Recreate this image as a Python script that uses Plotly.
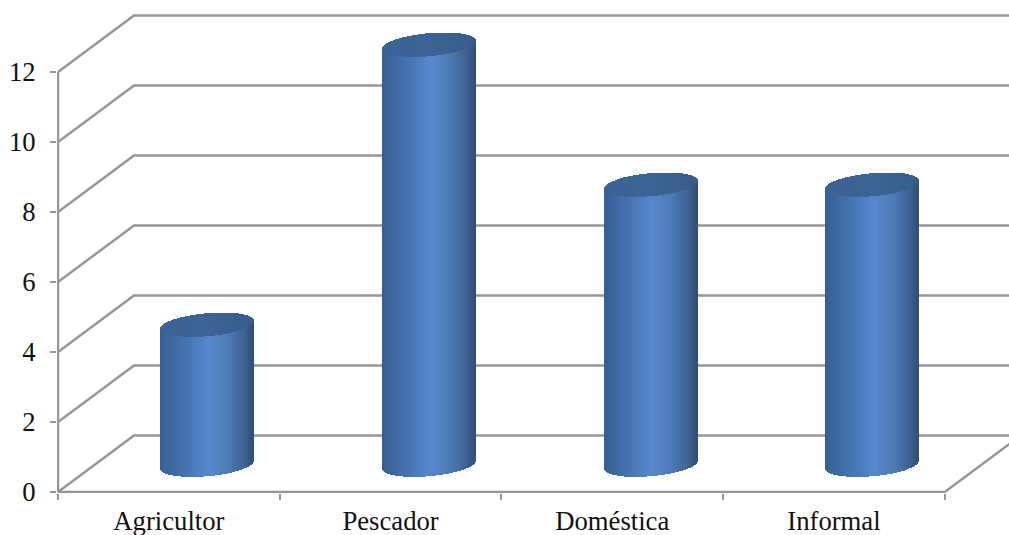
import numpy as np
import plotly.graph_objects as go

# Chart data
categories = ["Agricultor", "Pescador", "Doméstica", "Informal"]
values = [4, 12, 8, 8]
y_ticks = [0, 2, 4, 6, 8, 10, 12]

# Pseudo-3D geometry, in axis units
PX_PER_CAT = 221.7
PX_PER_UNIT = 35.0
DEPTH_X = 76 / PX_PER_CAT
DEPTH_Y = 56.5 / PX_PER_UNIT
PAD_X = 1 / PX_PER_CAT              # keeps the axis strokes from being clipped
PAD_Y = 1 / PX_PER_UNIT
X_LEFT = -0.5
X_MIN = X_LEFT - PAD_X
X_MAX = X_LEFT + 951 / PX_PER_CAT
Y_MIN = -PAD_Y
Y_MAX = 492 / PX_PER_UNIT

CYL_SHIFT = 38.5 / PX_PER_CAT       # cylinder centre sits mid-way into the floor
CYL_HALF = 46.5 / PX_PER_CAT        # cylinder radius along x
CYL_BASE = 0.78                     # height of the base centre above the front edge
CAP_B = 11.5 / PX_PER_UNIT          # half height of the elliptic caps
CAP_TILT = 4.0 / PX_PER_UNIT        # caps rise towards the right
SLICES = 94

GRID = "#969696"
LINE_W = 2.4
BODY_STOPS = [(-1.0, (54, 94, 146)), (-0.55, (66, 112, 172)), (0.05, (86, 136, 205)),
              (0.45, (78, 123, 184)), (0.8, (62, 99, 148)), (1.0, (48, 78, 118))]
CAP_STOPS = [(-1.0, (58, 100, 150)), (0.0, (60, 100, 148)), (1.0, (56, 92, 138))]


def shade(u, stops):
    pos = [s[0] for s in stops]
    rgb = [np.interp(u, pos, [s[1][c] for s in stops]) for c in range(3)]
    return "rgb(%d,%d,%d)" % tuple(int(round(c)) for c in rgb)


fig = go.Figure()

# Back wall and side wall gridlines
for v in y_ticks:
    fig.add_trace(go.Scatter(
        x=[X_LEFT, X_LEFT + DEPTH_X, X_MAX], y=[v, v + DEPTH_Y, v + DEPTH_Y],
        mode="lines", line=dict(color=GRID, width=LINE_W), hoverinfo="skip", showlegend=False,
    ))

# Front edge of the floor, right floor edge and the value axis line
right_end = X_LEFT + len(categories)
fig.add_trace(go.Scatter(x=[X_LEFT, right_end, right_end + DEPTH_X], y=[0, 0, DEPTH_Y],
                         mode="lines", line=dict(color=GRID, width=LINE_W),
                         hoverinfo="skip", showlegend=False))
fig.add_trace(go.Scatter(x=[X_LEFT, X_LEFT], y=[y_ticks[0], y_ticks[-1]],
                         mode="lines", line=dict(color=GRID, width=LINE_W),
                         hoverinfo="skip", showlegend=False))

# Each cylinder is a stack of thin bars on the category axis
us = (np.arange(SLICES) + 0.5) / SLICES * 2 - 1
slice_w = 2 * CYL_HALF / SLICES
for cat, val in zip(categories, values):
    arc = np.sqrt(1 - us ** 2)
    tilt = CAP_TILT * us
    bottom = CYL_BASE + tilt - CAP_B * arc
    top = CYL_BASE + val + tilt
    offsets = CYL_SHIFT + us * CYL_HALF - slice_w * 0.6
    widths = np.full(SLICES, slice_w * 1.2)

    fig.add_trace(go.Bar(
        x=[cat] * SLICES, y=top - bottom, base=bottom, offset=offsets, width=widths,
        marker=dict(color=[shade(u, BODY_STOPS) for u in us], line=dict(width=0)),
        xaxis="x2", yaxis="y", hoverinfo="skip", showlegend=False,
    ))
    cap_low = CYL_BASE + val + tilt - CAP_B * arc
    cap_high = CYL_BASE + val + tilt + CAP_B * arc
    fig.add_trace(go.Bar(
        x=[cat] * SLICES, y=cap_high - cap_low, base=cap_low, offset=offsets, width=widths,
        marker=dict(color=[shade(u, CAP_STOPS) for u in us], line=dict(width=0)),
        xaxis="x2", yaxis="y", hoverinfo="skip", showlegend=False,
    ))

TEXT_FONT = dict(family="Liberation Serif", size=26.7, color="#111111")

fig.update_layout(
    width=1009, height=535, autosize=False,
    margin=dict(l=57, r=0, t=0, b=42, autoexpand=False),
    paper_bgcolor="white", plot_bgcolor="white",
    barmode="overlay", bargap=0, showlegend=False,
    xaxis=dict(range=[X_MIN, X_MAX], visible=False, fixedrange=True),
    xaxis2=dict(
        type="category", overlaying="x", anchor="y", side="bottom",
        categoryorder="array", categoryarray=categories,
        range=[X_MIN, X_MAX], tickson="boundaries", ticks="outside",
        ticklen=6, tickwidth=2, tickcolor=GRID, showline=False, showgrid=False,
        zeroline=False, tickfont=TEXT_FONT, ticklabelstandoff=9, fixedrange=True,
        automargin=False,
    ),
    yaxis=dict(
        range=[Y_MIN, Y_MAX], tickmode="array", tickvals=y_ticks,
        ticktext=[str(v) for v in y_ticks], ticks="outside", ticklen=6, tickwidth=2,
        tickcolor=GRID, showline=False, showgrid=False, zeroline=False,
        tickfont=TEXT_FONT, ticklabelstandoff=9, fixedrange=True, automargin=False,
    ),
)

fig.write_html("out.html", config=dict(displayModeBar=False))
